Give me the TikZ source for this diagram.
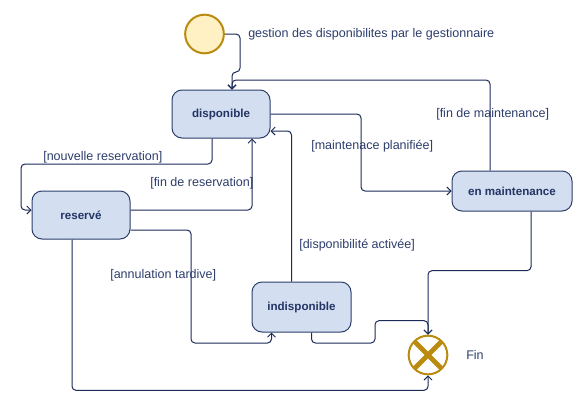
\documentclass[tikz,border=0pt]{standalone}
\usepackage{fontspec}
\setmainfont{Liberation Sans}
\usetikzlibrary{arrows.meta,calc}
\definecolor{edgec}{HTML}{1C2B5A}
\definecolor{nodefill}{HTML}{D3DEF1}
\definecolor{nodedraw}{HTML}{2C3F6B}
\definecolor{nodetext}{HTML}{233464}
\definecolor{labc}{HTML}{2E3E6C}
\definecolor{gold}{HTML}{BA8B0E}
\definecolor{initfill}{HTML}{FFF1C4}
\begin{document}
\begin{tikzpicture}[x=0.75pt,y=-0.75pt,
 state/.style={draw=nodedraw,fill=nodefill,rounded corners=7.5pt,line width=0.75pt,
   font=\fontsize{8.7}{10}\selectfont\bfseries,text=nodetext,inner sep=0pt},
 edge/.style={draw=edgec,line width=0.75pt,rounded corners=3pt,
   -{Straight Barb[length=3pt,width=6pt]}},
 lab/.style={font=\fontsize{9.4}{11}\selectfont,text=labc,inner sep=0pt,anchor=west}]
\useasboundingbox (0,0) rectangle (582,411);
\fill[white] (0,0) rectangle (582,411);
% nodes
\node[circle,draw=gold,fill=initfill,line width=1.5pt,minimum size=29pt,inner sep=0pt] (init) at (204.5,34) {};
\node[state,minimum width=73.5pt,minimum height=36pt] (disp) at (221,114) {disponible};
\node[state,minimum width=73.5pt,minimum height=36pt] (res) at (81,215) {reservé};
\node[state,minimum width=90pt,minimum height=30pt] (maint) at (512,191) {en maintenance};
\node[state,minimum width=74.25pt,minimum height=37.5pt] (indisp) at (301.5,307) {indisponible};
\node[circle,draw=gold,line width=1.5pt,minimum size=29pt,inner sep=0pt,
  path picture={\draw[gold,line width=3.5pt] (path picture bounding box.south west) -- (path picture bounding box.north east)
    (path picture bounding box.north west) -- (path picture bounding box.south east);}] (fin) at (428,355) {};
% labels
\node[lab] (lgest) at (248,34) {gestion des disponibilites par le gestionnaire};
\node[lab] (lmp) at (311,146) {[maintenace planifiée]};
\node[lab] (lfm) at (436,114) {[fin de maintenance]};
\node[lab] (lnr) at (43,157) {[nouvelle reservation]};
\node[lab] (lfr) at (150,183) {[fin de reservation]};
\node[lab] (lda) at (299,245) {[disponibilité activée]};
\node[lab] (lat) at (110,275) {[annulation tardive]};
\node[lab] (lfin) at (466,355) {Fin};
% edges
\draw[edge] (init.east) -| (240,72) -| ($(disp.north)+(11,0)$);
\draw[edge] (disp.east) -- (361,114) |- (maint.west);
\draw[edge] ($(maint.north)+(-22,0)$) |- (232,80) -- ($(disp.north)+(11,0)$);
\draw[edge] ($(disp.south)+(-9,0)$) |- (21,164) |- ($(res.west)+(0,-5)$);
\draw[edge] ($(res.east)+(0,-5)$) -| ($(disp.south)+(31,0)$);
\draw[edge] ($(indisp.north)+(-10,0)$) |- ($(disp.east)+(0,17)$);
\draw[edge] ($(res.east)+(0,15)$) -| (191,343) -| ($(indisp.south)+(-30,0)$);
\draw[edge] ($(res.south)+(-9,0)$) |- ($(fin.south)+(0,15)$) -- (fin.south);
\draw[edge] ($(indisp.south)+(10,0)$) |- (375,343) |- ($(fin.north)+(0,-14)$) -- (fin.north);
\draw[edge] ($(maint.south)+(19,0)$) |- ($(fin.north)+(0,-64)$) -- (fin.north);
\end{tikzpicture}
\end{document}
